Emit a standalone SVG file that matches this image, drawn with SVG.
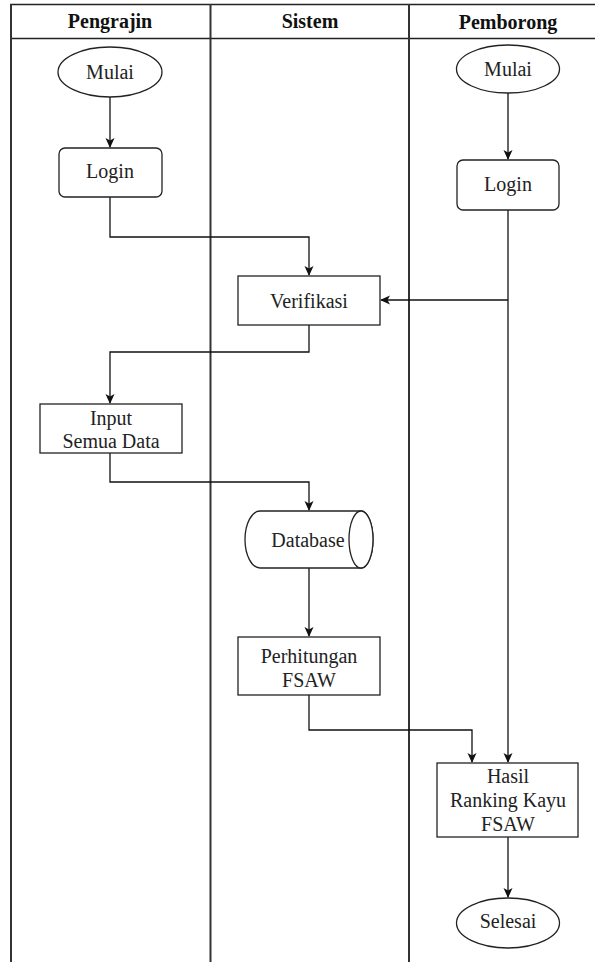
<svg xmlns="http://www.w3.org/2000/svg" width="595" height="962" viewBox="0 0 595 962">
  <style>
    .lane { stroke: #333; stroke-width: 2; fill: none; }
    .hdr { stroke: #222; stroke-width: 1.5; fill: none; }
    .shape { fill: #fff; stroke: #222; stroke-width: 1.3; }
    .edge { fill: none; stroke: #111; stroke-width: 1.3; }
    text { font-family: 'Liberation Serif', 'DejaVu Serif', serif; font-size: 20px; text-anchor: middle; }
    .lbl { fill: #222; }
    .head { font-weight: bold; fill: #111; }
  </style>
  <defs>
    <marker id="arrow" viewBox="0 0 10 10" refX="9" refY="5" markerWidth="10" markerHeight="10" markerUnits="userSpaceOnUse" orient="auto">
      <path d="M0,0.5 L10,5 L0,9.5 L2.5,5 z" fill="#111"/>
    </marker>
  </defs>
  <rect width="595" height="962" fill="#fff"/>

  <!-- swimlane frame -->
  <g id="lanes">
    <line class="hdr" x1="10" y1="4.5" x2="595" y2="4.5"/>
    <line class="hdr" x1="10" y1="38.5" x2="595" y2="38.5"/>
    <line class="lane" x1="11" y1="4" x2="11" y2="962"/>
    <line class="lane" x1="210.5" y1="4" x2="210.5" y2="962"/>
    <line class="lane" x1="409" y1="4" x2="409" y2="962"/>
    <text class="head" x="110" y="28">Pengrajin</text>
    <text class="head" x="310" y="28">Sistem</text>
    <text class="head" x="508" y="29">Pemborong</text>
  </g>

  <!-- connectors -->
  <g id="connectors">
    <line class="edge" x1="110" y1="97" x2="110" y2="147" marker-end="url(#arrow)"/>
    <line class="edge" x1="508" y1="93" x2="508" y2="159" marker-end="url(#arrow)"/>
    <polyline class="edge" points="110,197 110,237 309,237 309,275" marker-end="url(#arrow)"/>
    <line class="edge" x1="508" y1="210" x2="508" y2="762" marker-end="url(#arrow)"/>
    <line class="edge" x1="508" y1="300" x2="381" y2="300" marker-end="url(#arrow)"/>
    <polyline class="edge" points="309,325 309,352 110,352 110,403" marker-end="url(#arrow)"/>
    <polyline class="edge" points="110,453 110,482 309,482 309,510" marker-end="url(#arrow)"/>
    <line class="edge" x1="309" y1="568" x2="309" y2="636" marker-end="url(#arrow)"/>
    <polyline class="edge" points="309,695 309,730 472,730 472,762" marker-end="url(#arrow)"/>
    <line class="edge" x1="508" y1="837" x2="508" y2="897" marker-end="url(#arrow)"/>
  </g>

  <g id="mulai-pengrajin">
    <ellipse class="shape" cx="110" cy="72" rx="52" ry="25"/>
    <text class="lbl" x="110" y="79">Mulai</text>
  </g>
  <g id="login-pengrajin">
    <rect class="shape" x="59" y="148" width="103" height="49" rx="6"/>
    <text class="lbl" x="110" y="178">Login</text>
  </g>
  <g id="mulai-pemborong">
    <ellipse class="shape" cx="508" cy="69" rx="51.5" ry="24"/>
    <text class="lbl" x="508" y="76">Mulai</text>
  </g>
  <g id="login-pemborong">
    <rect class="shape" x="457" y="160" width="102" height="50" rx="6"/>
    <text class="lbl" x="508" y="191">Login</text>
  </g>
  <g id="verifikasi">
    <rect class="shape" x="238" y="276" width="142" height="49"/>
    <text class="lbl" x="309" y="308">Verifikasi</text>
  </g>
  <g id="input-data">
    <rect class="shape" x="40" y="404" width="142" height="49"/>
    <text class="lbl" x="111" y="425">Input</text>
    <text class="lbl" x="111" y="448">Semua Data</text>
  </g>
  <g id="database">
    <path class="shape" d="M260,511 L361,511 A12,28.5 0 0 1 361,568 L260,568 A15,28.5 0 0 1 260,511 Z"/>
    <ellipse class="shape" cx="361" cy="539.5" rx="12" ry="28.5"/>
    <text class="lbl" x="308" y="547">Database</text>
  </g>
  <g id="perhitungan">
    <rect class="shape" x="238" y="637" width="142" height="58"/>
    <text class="lbl" x="309" y="663">Perhitungan</text>
    <text class="lbl" x="309" y="687">FSAW</text>
  </g>
  <g id="hasil">
    <rect class="shape" x="437" y="763" width="141" height="74"/>
    <text class="lbl" x="508" y="783">Hasil</text>
    <text class="lbl" x="508" y="807">Ranking Kayu</text>
    <text class="lbl" x="508" y="831">FSAW</text>
  </g>
  <g id="selesai">
    <ellipse class="shape" cx="508" cy="923" rx="51.5" ry="25"/>
    <text class="lbl" x="508" y="928">Selesai</text>
  </g>
</svg>
